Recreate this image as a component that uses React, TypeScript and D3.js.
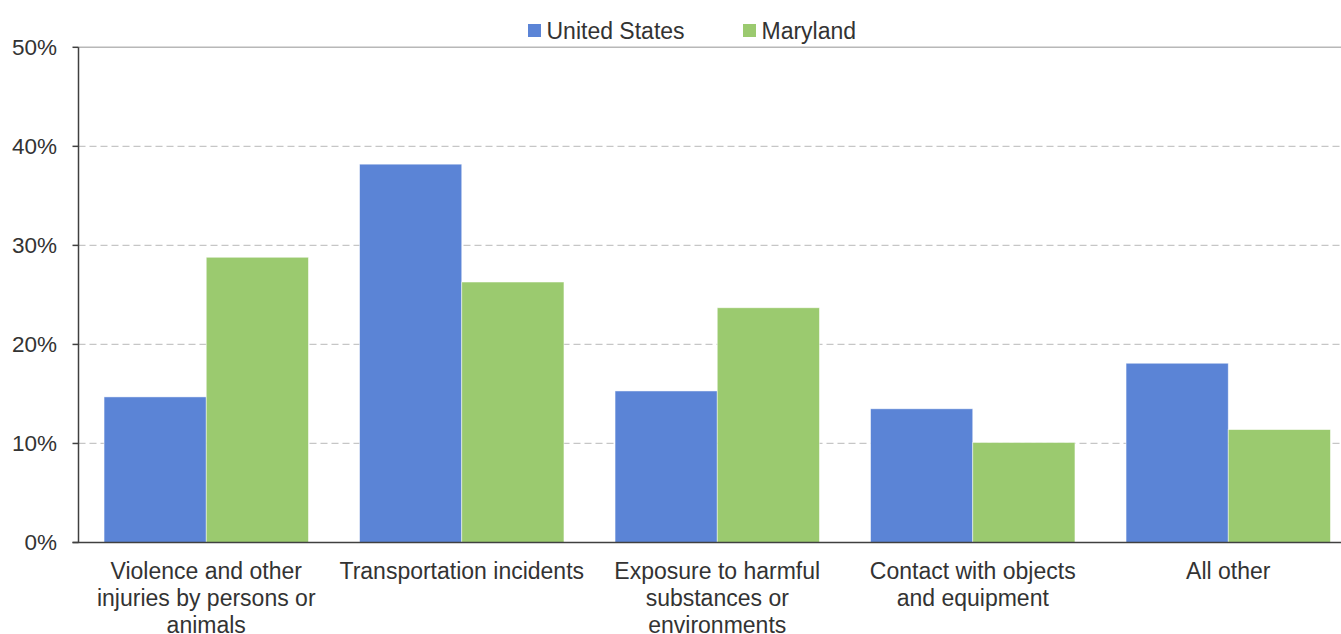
import React from "react";
import * as d3 from "d3";

const categories = [
  ["Violence and other", "injuries by persons or", "animals"],
  ["Transportation incidents"],
  ["Exposure to harmful", "substances or", "environments"],
  ["Contact with objects", "and equipment"],
  ["All other"],
];
const categoryKeys = ["violence", "transport", "exposure", "contact", "other"];
const seriesNames = ["United States", "Maryland"];
const usValues = [14.7, 38.2, 15.3, 13.5, 18.1];
const mdValues = [28.8, 26.3, 23.7, 10.1, 11.4];
const yTicks = [0, 10, 20, 30, 40, 50];
const colors = ["#5B84D6", "#9BCA6F"];

const W = 1341;
const H = 634;
const left = 78.5;
const right = 1356;
const top = 47.3;
const bottom = 542.5;
const FONT = "'Liberation Sans', Arial, sans-serif";
const TEXT = "#333333";

export default function App() {
  const x = d3
    .scaleBand<string>()
    .domain(categoryKeys)
    .range([left, right])
    .paddingInner(0.2)
    .paddingOuter(0.1);
  const xs = d3.scaleBand<string>().domain(seriesNames).range([0, x.bandwidth()]).padding(0);
  const y = d3.scaleLinear().domain([0, 50]).range([bottom, top]);
  const series = [usValues, mdValues];
  const step = x.step();

  return (
    <svg
      width={W}
      height={H}
      style={{ position: "absolute", left: 0, top: 0, background: "#fff" }}
      fontFamily={FONT}
    >
      {/* gridlines */}
      {yTicks
        .filter((t) => t > 0 && t < 50)
        .map((t) => (
          <line
            key={t}
            x1={left}
            x2={W}
            y1={y(t)}
            y2={y(t)}
            stroke="#c6c6c6"
            strokeWidth={1.2}
            strokeDasharray="7 4"
          />
        ))}
      <line x1={left} x2={W} y1={y(50)} y2={y(50)} stroke="#b8b8b8" strokeWidth={1.5} />

      {/* bars */}
      {series.map((vals, si) =>
        vals.map((v, ci) => (
          <rect
            key={`${si}-${ci}`}
            x={(x(categoryKeys[ci]) as number) + (xs(seriesNames[si]) as number)}
            y={y(v)}
            width={xs.bandwidth()}
            height={bottom - y(v)}
            fill={colors[si]}
            stroke="rgba(255,255,255,0.6)"
            strokeWidth={0.8}
          />
        ))
      )}

      {/* axes */}
      <line x1={left} x2={left} y1={top} y2={bottom} stroke="#404040" strokeWidth={1.5} />
      <line x1={left - 6} x2={W} y1={bottom} y2={bottom} stroke="#404040" strokeWidth={1.5} />
      {yTicks.map((t) => (
        <g key={t}>
          <line x1={left - 6} x2={left} y1={y(t)} y2={y(t)} stroke="#404040" strokeWidth={1.5} />
          <text
            x={57}
            y={y(t)}
            dy="0.35em"
            textAnchor="end"
            fontSize={22.5}
            fill={TEXT}
          >
            {`${t}%`}
          </text>
        </g>
      ))}

      {/* category labels */}
      {categories.map((lines, ci) => {
        const cx = (x(categoryKeys[ci]) as number) + x.bandwidth() / 2;
        return (
          <text key={ci} textAnchor="middle" fontSize={23} fill={TEXT}>
            {lines.map((ln, li) => (
              <tspan key={li} x={cx} y={578.5 + li * 27}>
                {ln}
              </tspan>
            ))}
          </text>
        );
      })}

      {/* legend */}
      {seriesNames.map((name, i) => {
        const lx = [528, 743][i];
        return (
          <g key={name}>
            <rect x={lx} y={24} width={13} height={13} fill={colors[i]} />
            <text x={lx + 18.5} y={38.5} fontSize={23} fill={TEXT}>
              {name}
            </text>
          </g>
        );
      })}
    </svg>
  );
}
